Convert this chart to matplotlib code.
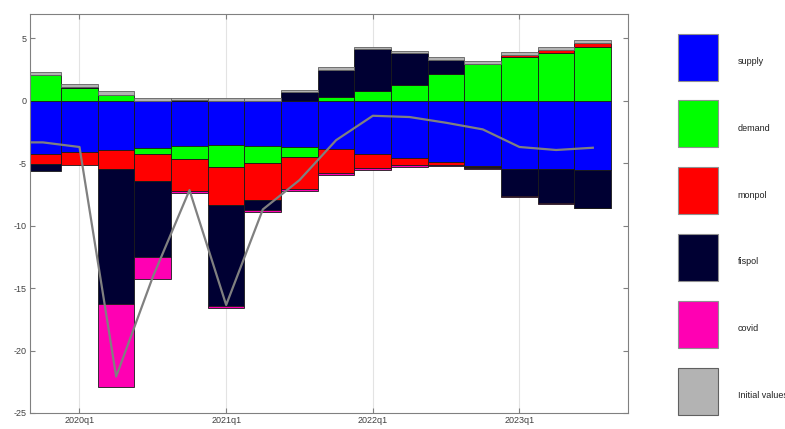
import matplotlib
matplotlib.use("Agg")
import matplotlib.pyplot as plt
from matplotlib.patches import Rectangle
import numpy as np

plt.rcParams['font.family'] = ['Liberation Sans', 'DejaVu Sans']
plt.rcParams['axes.unicode_minus'] = False

# quarters 2019q4 .. 2023q3
periods = np.arange(16)
tick_pos = [1, 5, 9, 13]
tick_labels = ["2020q1", "2021q1", "2022q1", "2023q1"]

supply = [-4.27, -4.13, -3.92, -3.81, -3.60, -3.55, -3.63, -3.71,
          -3.87, -4.24, -4.56, -4.91, -5.20, -5.47, -5.49, -5.55]
demand = [2.03, 0.99, 0.48, -0.48, -1.07, -1.79, -1.39, -0.77,
          0.27, 0.77, 1.23, 2.13, 2.96, 3.52, 3.84, 4.32]
monpol = [-0.83, -0.99, -1.57, -2.16, -2.53, -3.01, -2.93, -2.61,
          -1.89, -1.12, -0.59, -0.21, -0.11, 0.11, 0.21, 0.27]
fispol = [-0.51, 0.13, -10.80, -6.08, 0.04, -8.07, -0.80, 0.69,
          2.19, 3.36, 2.56, 1.17, -0.05, -2.13, -2.72, -3.04]
covid = [0.0, 0.0, -6.64, -1.76, -0.16, -0.18, -0.16, -0.16,
         -0.16, -0.16, -0.13, -0.13, -0.11, -0.08, -0.02, -0.02]
initial = [0.24, 0.24, 0.27, 0.21, 0.20, 0.24, 0.21, 0.21,
           0.21, 0.21, 0.21, 0.21, 0.21, 0.24, 0.24, 0.24]

# total line (starts one quarter before the first bar)
line_x = np.arange(-1, 16)
line_vals = [-3.33, -3.33, -3.70, -22.08, -14.10, -7.15, -16.35, -8.70, -6.35,
             -3.15, -1.20, -1.30, -1.76, -2.29, -3.70, -3.94, -3.76]

names = ["supply", "demand", "monpol", "fispol", "covid", "Initial values"]
series = [supply, demand, monpol, fispol, covid, initial]
colors = ["#0000ff", "#00ff00", "#ff0000", "#000033", "#ff00b3", "#b3b3b3"]

fig = plt.figure(figsize=(7.85, 4.29), dpi=100)
ax = fig.add_axes([30 / 785, 16 / 429, 598 / 785, 399 / 429])

pos_base = np.zeros(len(periods))
neg_base = np.zeros(len(periods))
for vals, col in zip(series, colors):
    v = np.array(vals)
    bottom = np.where(v >= 0, pos_base, neg_base)
    edge = "#606060" if col == "#b3b3b3" else "#1a1a1a"
    ax.bar(periods, v, width=1.0, bottom=bottom, color=col,
           edgecolor=edge, linewidth=0.6, zorder=2)
    pos_base += np.where(v >= 0, v, 0)
    neg_base += np.where(v < 0, v, 0)

ax.plot(line_x, line_vals, color="#808080", linewidth=1.6, zorder=3)

ax.set_xlim(-0.35, 15.96)
ax.set_ylim(-25, 6.95)
ax.set_xticks(tick_pos)
ax.set_xticklabels(tick_labels)
ax.set_yticks([-25, -20, -15, -10, -5, 0, 5])
ax.grid(axis="x", color="#e3e3e3", linewidth=0.8, zorder=0)
ax.set_axisbelow(True)
ax.tick_params(direction="in", top=True, right=True, length=3.6, width=0.8,
               colors="#808080", labelcolor="#404040", labelsize=6.5, pad=2.5)
for s in ax.spines.values():
    s.set_color("#808080")
    s.set_linewidth(0.8)

# legend drawn as a separate panel of boxes
lax = fig.add_axes([640 / 785, 0, 145 / 785, 1])
lax.set_xlim(0, 145)
lax.set_ylim(429, 0)
lax.axis("off")
for i, (name, col) in enumerate(zip(names, colors)):
    top = 33.5 + i * 66.8
    edge = "#606060" if col == "#b3b3b3" else "#909090"
    lax.add_patch(Rectangle((37.5, top), 40, 47, facecolor=col,
                            edgecolor=edge, linewidth=0.8))
    lax.text(97.5, top + 28, name, va="center", ha="left",
             fontsize=6.5, color="#202020", clip_on=False)

fig.savefig("out.png", dpi=100)
